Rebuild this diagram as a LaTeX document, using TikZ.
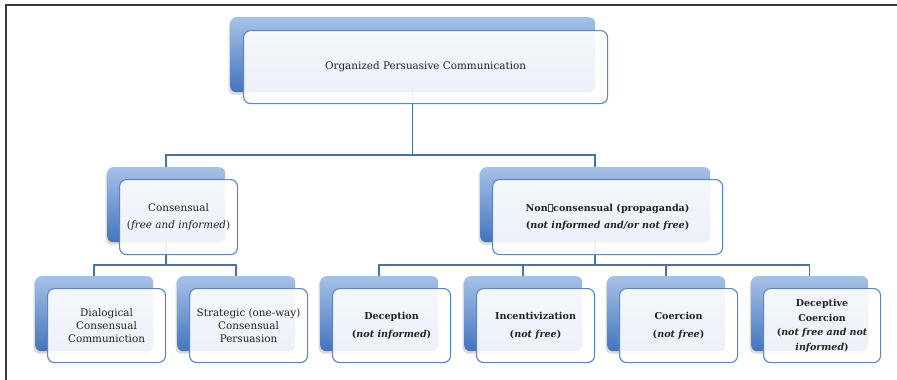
\documentclass[tikz,border=0pt]{standalone}
\usepackage{fontspec}
\setmainfont{DejaVu Serif}
\usetikzlibrary{shadows,backgrounds}
\definecolor{linkc}{RGB}{75,114,166}
\definecolor{edgec}{RGB}{90,134,197}
\definecolor{btop}{RGB}{166,193,230}
\definecolor{bbot}{RGB}{66,116,190}
\definecolor{framec}{RGB}{58,58,58}
\definecolor{txt}{RGB}{34,34,34}
\newcommand{\missingglyph}{\kern0.3pt{\color{black!70}\fboxsep=0pt\fboxrule=0.4pt\fbox{\vrule width 0pt height 7pt\kern4pt}}\kern0.3pt}
\tikzset{
  backbox/.style={rectangle, rounded corners=6pt, minimum height=75pt, inner sep=0pt,
    top color=btop, bottom color=bbot,
    drop shadow={shadow xshift=-1.5pt, shadow yshift=-2.5pt, opacity=0.15, fill=black}},
  frontbox/.style={rectangle, rounded corners=7pt, minimum height=74pt, inner sep=2pt,
    draw=edgec, line width=1.1pt, fill=white, fill opacity=0.9, text opacity=1,
    align=center, text=txt, font=\fontsize{10.4}{17}\selectfont},
  boldtext/.style={font=\fontsize{9.6}{17.5}\selectfont\bfseries},
  link/.style={draw=linkc, line width=1.5pt},
  framel/.style={draw=framec, line width=1.5pt},
}
\begin{document}
\begin{tikzpicture}[x=1pt,y=-1pt]
\useasboundingbox (0,0) rectangle (897,380);
% top
\node[backbox, minimum width=365pt, anchor=north west] (topb) at (230,17) {};
\node[frontbox, minimum width=364pt, minimum height=73pt, anchor=north west] (topf) at (243,30) {Organized Persuasive Communication};
% level 2
\node[backbox, minimum width=118pt, anchor=north west] (consb) at (107,167) {};
\node[frontbox, minimum width=118pt, minimum height=75pt, anchor=north west] (consf) at (119,179) {Consensual\\(\textit{free and informed})};
\node[backbox, minimum width=230pt, anchor=north west] (nonb) at (480,167) {};
\node[frontbox, boldtext, minimum width=230pt, minimum height=75pt, anchor=north west] (nonf) at (492,179) {Non\missingglyph consensual (propaganda)\\(\textit{not informed and/or not free})};
% level 3
\node[backbox, minimum width=118pt, anchor=north west] (dialb) at (35,276) {};
\node[frontbox, font=\fontsize{10.4}{13.3}\selectfont, minimum width=118pt, anchor=north west] (dialf) at (47,288) {Dialogical\\Consensual\\Communiction};
\node[backbox, minimum width=118pt, anchor=north west] (stratb) at (177,276) {};
\node[frontbox, font=\fontsize{10.4}{13.3}\selectfont, minimum width=118pt, anchor=north west] (stratf) at (189,288) {Strategic (one-way)\\Consensual\\Persuasion};
\node[backbox, minimum width=118pt, anchor=north west] (decb) at (320,276) {};
\node[frontbox, boldtext, minimum width=118pt, anchor=north west] (decf) at (332,288) {Deception\\(\textit{not informed})};
\node[backbox, minimum width=118pt, anchor=north west] (incb) at (464,276) {};
\node[frontbox, boldtext, minimum width=118pt, anchor=north west] (incf) at (476,288) {Incentivization\\(\textit{not free})};
\node[backbox, minimum width=118pt, anchor=north west] (coerb) at (607,276) {};
\node[frontbox, boldtext, minimum width=118pt, anchor=north west] (coerf) at (619,288) {Coercion\\(\textit{not free})};
\node[backbox, minimum width=117pt, anchor=north west] (dcoerb) at (751,276) {};
\node[frontbox, font=\fontsize{9.5}{14.5}\selectfont\bfseries, minimum width=117pt, anchor=north west] (dcoerf) at (763,288) {Deceptive\\Coercion\\(\textit{not free and not}\\\textit{informed})};
% connectors and frame
\begin{scope}[on background layer]
  \coordinate (c0) at (6,380);
  \coordinate (c1) at (6,5);
  \coordinate (c2) at (897,5);
  \draw[framel] (c0) -- (c1) -- (c2);
  \coordinate (j0) at (topb.south |- 0,155);
  \draw[link] (topb.south) -- (j0);
  \draw[link] (consb.north) |- (j0) -| (nonb.north);
  \coordinate (j1) at (consb.south |- 0,265);
  \draw[link] (consb.south) -- (j1);
  \draw[link] (dialb.north) |- (j1) -| (stratb.north);
  \coordinate (j2) at (nonb.south |- 0,265);
  \draw[link] (nonb.south) -- (j2);
  \draw[link] (decb.north) |- (j2) -| (dcoerb.north);
  \draw[link] (incb.north) -- (incb.north |- j2);
  \draw[link] (coerb.north) -- (coerb.north |- j2);
\end{scope}
\end{tikzpicture}
\end{document}
